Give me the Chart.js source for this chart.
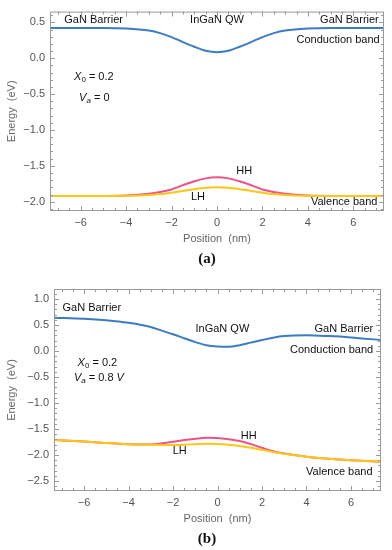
<!DOCTYPE html>
<html>
<head>
<meta charset="utf-8">
<script src="https://cdn.jsdelivr.net/npm/chart.js@4.4.0/dist/chart.umd.min.js"></script>
<style>
  body { margin: 0; width: 392px; height: 550px; background: #fff; position: relative; overflow: hidden; }
  canvas { position: absolute; left: 0; }
  .cap { position: absolute; font: bold 15px "Liberation Serif", "Times New Roman", serif; color: #111; transform: translate(-50%, -50%); }
</style>
</head>
<body>
<canvas id="grafA" width="392" height="250" style="top:0"></canvas>
<canvas id="grafB" width="392" height="260" style="top:270px"></canvas>
<div class="cap" style="left:207px; top:258px">(a)</div>
<div class="cap" style="left:207px; top:538px">(b)</div>
<script>
// posições (nm) e energias (eV)
const positionsA = [-7.35, -6, -5, -4, -3, -2.5, -2, -1.5, -1, -0.5, 0, 0.5, 1, 1.5, 2, 2.5, 3, 4, 5, 6, 7.35];
const conductionA = [0.42, 0.42, 0.42, 0.413, 0.385, 0.35, 0.295, 0.225, 0.16, 0.105, 0.085, 0.105, 0.16, 0.225, 0.295, 0.35, 0.385, 0.413, 0.42, 0.42, 0.42];
const hhA = [-1.92, -1.92, -1.92, -1.915, -1.89, -1.865, -1.83, -1.77, -1.716, -1.675, -1.66, -1.675, -1.716, -1.77, -1.83, -1.865, -1.89, -1.915, -1.92, -1.92, -1.92];
const lhA = [-1.92, -1.92, -1.92, -1.917, -1.906, -1.894, -1.874, -1.85, -1.826, -1.807, -1.80, -1.807, -1.826, -1.85, -1.874, -1.894, -1.906, -1.917, -1.92, -1.92, -1.92];

const positionsB = [-7.35, -6, -5, -4, -3, -2.5, -2, -1.5, -1, -0.5, 0, 0.5, 1, 1.5, 2, 2.5, 3, 4, 5, 6, 7.35];
const conductionB = [0.64, 0.62, 0.59, 0.54, 0.46, 0.39, 0.32, 0.245, 0.17, 0.11, 0.085, 0.08, 0.11, 0.16, 0.21, 0.255, 0.285, 0.30, 0.285, 0.26, 0.21];
const hhB = [-1.71, -1.74, -1.77, -1.79, -1.795, -1.775, -1.745, -1.71, -1.685, -1.668, -1.672, -1.695, -1.73, -1.79, -1.86, -1.925, -1.97, -2.03, -2.07, -2.10, -2.13];
const lhB = [-1.71, -1.74, -1.77, -1.79, -1.80, -1.805, -1.805, -1.80, -1.79, -1.782, -1.785, -1.80, -1.825, -1.86, -1.90, -1.94, -1.975, -2.03, -2.07, -2.10, -2.13];

// marcas dos eixos
const xTicks = [-6, -4, -2, 0, 2, 4, 6];
const yTicksA = [-2, -1.5, -1, -0.5, 0, 0.5];
const yTicksB = [-2.5, -2, -1.5, -1, -0.5, 0, 0.5, 1];

const AZUL = '#3b7cc2';
const ROSA = '#ef5288';
const AMARELO = '#ffc613';
const FONTE = '"Liberation Sans", Arial, sans-serif';

function pares(xs, ys) {
    return xs.map((x, i) => ({ x: x, y: ys[i] }));
}

function fmt(v, dec) {
    return v.toFixed(dec).replace('-', '\u2212');
}

// moldura estilo Mathematica com marcas para dentro nos 4 lados
const moldura = {
    id: 'moldura',
    afterDraw(chart, args, opts) {
        const { ctx, chartArea: a, scales: { x, y } } = chart;
        ctx.save();
        ctx.strokeStyle = '#9a9a9a';
        ctx.lineWidth = 1;
        ctx.strokeRect(a.left + 0.5, a.top + 0.5, a.right - a.left - 1, a.bottom - a.top - 1);
        ctx.beginPath();
        for (let v = Math.ceil(x.min * 2) / 2; v <= x.max; v += 0.5) {
            const px = Math.round(x.getPixelForValue(v)) + 0.5;
            const len = Number.isInteger(v / 2) ? 5 : 3;
            ctx.moveTo(px, a.bottom); ctx.lineTo(px, a.bottom - len);
            ctx.moveTo(px, a.top); ctx.lineTo(px, a.top + len);
        }
        for (let k = Math.ceil(y.min * 10); k <= y.max * 10; k++) {
            const v = k / 10;
            const py = Math.round(y.getPixelForValue(v)) + 0.5;
            const len = (k % 5 === 0) ? 5 : 3;
            ctx.moveTo(a.left, py); ctx.lineTo(a.left + len, py);
            ctx.moveTo(a.right, py); ctx.lineTo(a.right - len, py);
        }
        ctx.stroke();
        ctx.restore();
    }
};

// textos dentro do gráfico, em coordenadas dos dados
const rotulos = {
    id: 'rotulos',
    afterDatasetsDraw(chart, args, opts) {
        const { ctx, scales: { x, y } } = chart;
        ctx.save();
        ctx.fillStyle = '#111';
        ctx.textBaseline = 'middle';
        (opts.itens || []).forEach(item => {
            const partes = item.partes;
            const fontes = partes.map(p => (p.i ? 'italic ' : '') + (p.sub ? '8px ' : '11px ') + FONTE);
            let largura = 0;
            const larg = partes.map((p, k) => { ctx.font = fontes[k]; const w = ctx.measureText(p.t).width; largura += w; return w; });
            let px = x.getPixelForValue(item.x);
            const py = y.getPixelForValue(item.y);
            if (item.alinha === 'center') px -= largura / 2;
            if (item.alinha === 'right') px -= largura;
            partes.forEach((p, k) => {
                ctx.font = fontes[k];
                ctx.textAlign = 'left';
                ctx.fillText(p.t, px, py + (p.sub ? 3 : 0));
                px += larg[k];
            });
        });
        ctx.restore();
    }
};

function txt(s) { return [{ t: s }]; }

const rotulosA = [
    { partes: txt('GaN Barrier'), x: -6.72, y: 0.527, alinha: 'left' },
    { partes: txt('InGaN QW'), x: 0, y: 0.527, alinha: 'center' },
    { partes: txt('GaN Barrier'), x: 7.12, y: 0.527, alinha: 'right' },
    { partes: txt('Conduction band'), x: 7.16, y: 0.26, alinha: 'right' },
    { partes: [{ t: 'X', i: true }, { t: '0', sub: true }, { t: ' = 0.2' }], x: -5.42, y: -0.255, alinha: 'center' },
    { partes: [{ t: 'V', i: true }, { t: 'a', i: true, sub: true }, { t: ' = 0' }], x: -5.4, y: -0.55, alinha: 'center' },
    { partes: txt('HH'), x: 1.2, y: -1.57, alinha: 'center' },
    { partes: txt('LH'), x: -0.84, y: -1.94, alinha: 'center' },
    { partes: txt('Valence band'), x: 7.06, y: -2.0, alinha: 'right' }
];

const rotulosB = [
    { partes: txt('GaN Barrier'), x: -6.97, y: 0.83, alinha: 'left' },
    { partes: txt('InGaN QW'), x: 0.22, y: 0.42, alinha: 'center' },
    { partes: txt('GaN Barrier'), x: 7.0, y: 0.42, alinha: 'right' },
    { partes: txt('Conduction band'), x: 7.0, y: 0.02, alinha: 'right' },
    { partes: [{ t: 'X', i: true }, { t: '0', sub: true }, { t: ' = 0.2' }], x: -5.4, y: -0.225, alinha: 'center' },
    { partes: [{ t: 'V', i: true }, { t: 'a', i: true, sub: true }, { t: ' = 0.8 ' }, { t: 'V', i: true }], x: -5.33, y: -0.51, alinha: 'center' },
    { partes: txt('HH'), x: 1.4, y: -1.63, alinha: 'center' },
    { partes: txt('LH'), x: -1.7, y: -1.92, alinha: 'center' },
    { partes: txt('Valence band'), x: 6.97, y: -2.32, alinha: 'right' }
];

function serie(pos, vals, cor, ordem) {
    return {
        data: pares(pos, vals),
        borderColor: cor,
        borderWidth: 2,
        pointRadius: 0,
        fill: false,
        cubicInterpolationMode: 'monotone',
        order: ordem
    };
}

function montar(id, cfg) {
    const ctx = document.getElementById(id).getContext('2d');
    new Chart(ctx, {
        type: 'line',
        data: {
            datasets: [
                serie(cfg.pos, cfg.cond, AZUL, 0),
                serie(cfg.pos, cfg.lh, AMARELO, 1),
                serie(cfg.pos, cfg.hh, ROSA, 2)
            ]
        },
        options: {
            responsive: false,
            animation: false,
            layout: { padding: { top: cfg.topo, right: cfg.dir, left: 0, bottom: 0 } },
            plugins: {
                legend: { display: false },
                tooltip: { enabled: false },
                rotulos: { itens: cfg.rotulos }
            },
            scales: {
                x: {
                    type: 'linear',
                    min: -7.35,
                    max: 7.35,
                    afterBuildTicks: s => { s.ticks = xTicks.map(v => ({ value: v })); },
                    afterFit: s => { s.height = 39; },
                    grid: { display: false, drawTicks: false },
                    border: { display: false },
                    ticks: { padding: 5, color: '#555', font: { family: FONTE, size: 11 }, callback: v => fmt(v, 0), maxRotation: 0 },
                    title: { display: true, text: 'Position  (nm)', color: '#666', font: { family: FONTE, size: 11 }, padding: { top: 0, bottom: 4 } }
                },
                y: {
                    type: 'linear',
                    min: cfg.ymin,
                    max: cfg.ymax,
                    afterBuildTicks: s => { s.ticks = cfg.yTicks.map(v => ({ value: v })); },
                    afterFit: s => { s.width = cfg.esq; },
                    grid: { display: false, drawTicks: false },
                    border: { display: false },
                    ticks: { padding: 5, color: '#555', font: { family: FONTE, size: 11 }, callback: v => fmt(v, 1) },
                    title: { display: true, text: 'Energy  (eV)', color: '#666', font: { family: FONTE, size: 11 }, padding: { top: 5, bottom: 0 } }
                }
            }
        },
        plugins: [moldura, rotulos]
    });
}

montar('grafA', {
    pos: positionsA, cond: conductionA, hh: hhA, lh: lhA,
    ymin: -2.13, ymax: 0.65, yTicks: yTicksA,
    topo: 4, dir: 8, esq: 50, rotulos: rotulosA
});

montar('grafB', {
    pos: positionsB, cond: conductionB, hh: hhB, lh: lhB,
    ymin: -2.69, ymax: 1.19, yTicks: yTicksB,
    topo: 19, dir: 11, esq: 54, rotulos: rotulosB
});
</script>
</body>
</html>
